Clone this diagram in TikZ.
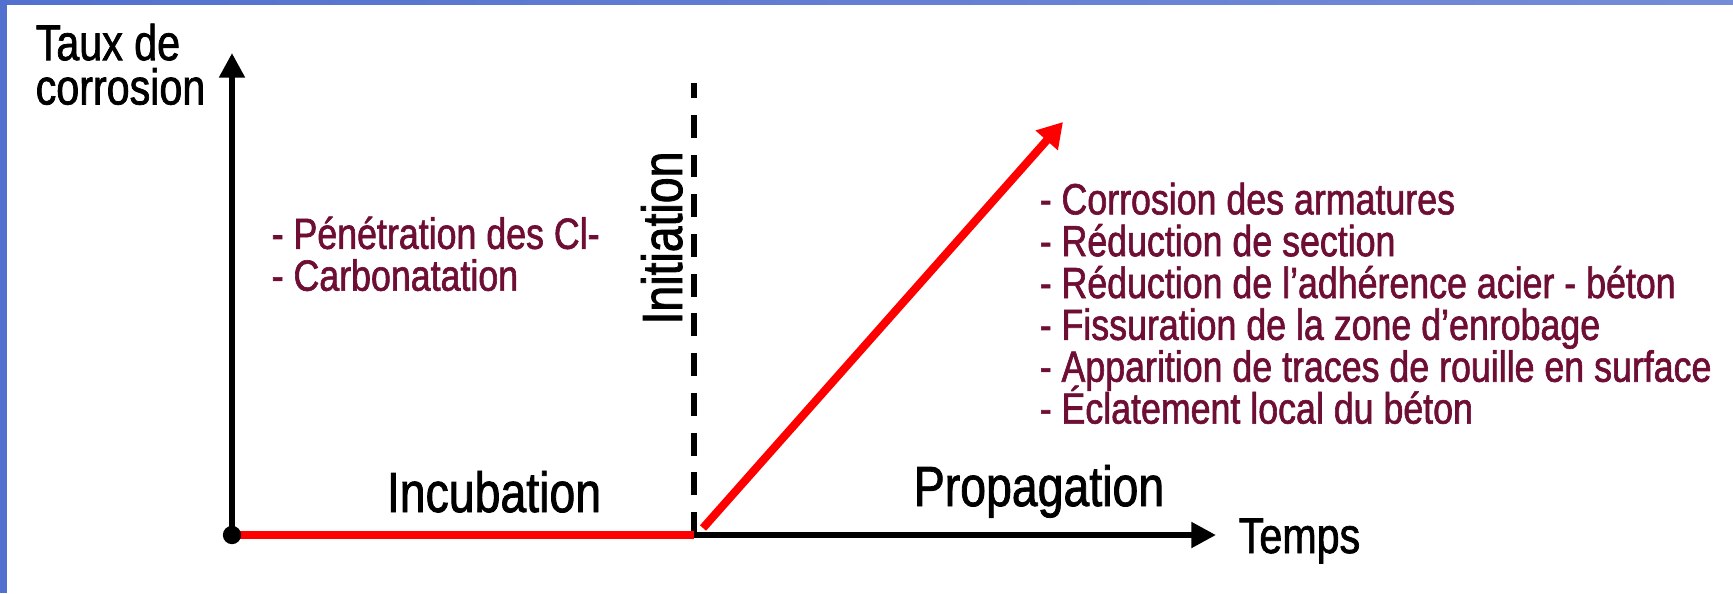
\documentclass[tikz,border=0pt]{standalone}
\usepackage{fontspec}
\setmainfont{Liberation Sans}[FakeStretch=0.82,FakeBold=1.4]
\usetikzlibrary{arrows.meta}
\definecolor{framebl}{RGB}{82,112,206}
\definecolor{listred}{RGB}{110,14,52}
\tikzset{
  axarr/.style={-{Triangle[length=7pt,width=7pt]},line width=1.7pt},
  redarr/.style={-{Triangle[length=7pt,width=8pt]},line width=2.3pt,red},
  phase/.style={inner sep=0pt,font=\fontsize{16.1}{18}\selectfont},
  axlabel/.style={inner sep=0pt,align=left,
                  font=\fontsize{14.3}{12.6}\selectfont\lineskiplimit-20pt\relax},
  effects/.style={inner sep=0pt,align=left,text=listred,
                  font=\fontsize{12.4}{11.9}\selectfont\lineskiplimit-20pt\relax}
}

\begin{document}
\begin{tikzpicture}[x=0.01cm,y=-0.01cm]
\useasboundingbox (0,0) rectangle (1733,593);
% slide frame
\fill[framebl] (0,0) rectangle (7,593);
\shade[left color=framebl,middle color=white,right color=framebl!80] (0,0) rectangle (1733,4);

\coordinate (O) at (232,535);
\coordinate (ytop) at (232,53);
\coordinate (xend) at (1216,535);
\coordinate (init) at (694,535);
\coordinate (inittop) at (694,83);
\coordinate (rs) at (703,528);
\coordinate (re) at (1063,122);

% axes
\draw[axarr] (O) -- (ytop);
\draw[axarr] (O) -- (xend);
\draw[line width=1.7pt,dash pattern=on 6.5pt off 4.8pt] (init) -- (inittop);
\draw[red,line width=2.3pt] (O) -- (init);
\draw[redarr] (rs) -- (re);
\node[circle,fill=black,inner sep=0pt,minimum size=5.2pt] (dot) at (O) {};

% labels
\node[axlabel,anchor=north west] (taux) at (35,23) {Taux de\\corrosion};
\node[axlabel,anchor=base west] (temps) at (1238,553) {Temps};
\node[phase,anchor=base] (incub) at (494,512) {Incubation};
\node[phase,anchor=base] (propag) at (1039,506) {Propagation};
\node[phase,rotate=90,anchor=base] (initlbl) at (682,238) {Initiation};

\node[effects,anchor=north west] (causes) at (271,216)
  {- Pénétration des Cl-\\- Carbonatation};
\node[effects,anchor=north west] (effets) at (1039,182)
  {- Corrosion des armatures\\
   - Réduction de section\\
   - Réduction de l’adhérence acier - béton\\
   - Fissuration de la zone d’enrobage\\
   - Apparition de traces de rouille en surface\\
   - Éclatement local du béton};
\end{tikzpicture}
\end{document}
